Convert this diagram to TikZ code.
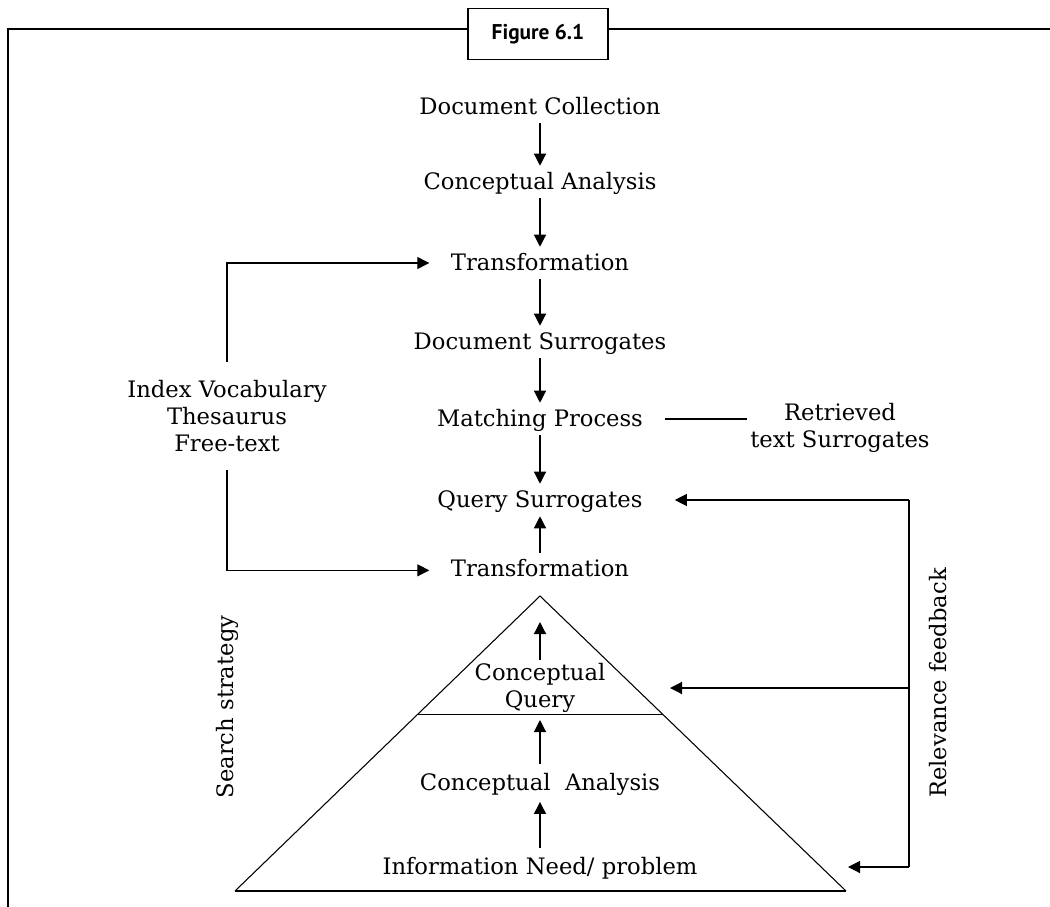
\documentclass[tikz,border=0pt]{standalone}
\usepackage{fontspec}
\setmainfont{DejaVu Serif}
\newfontfamily\figfont{PT Sans}
\usetikzlibrary{arrows.meta,shapes,calc}
\tikzstyle{stage}=[inner xsep=16pt, inner ysep=0pt
,minimum height=24pt
,text height=11pt, text depth=0pt
,align=center
]
\tikzstyle{tall stage} = [stage, minimum height=28pt]
\tikzstyle{block} = [inner xsep=2pt, align=center]
\tikzstyle{figure label} = [draw, fill=white, line width=0.8pt, inner sep=0pt
,minimum width=105pt, minimum height=38pt
,font=\figfont\bfseries\fontsize{16}{19}\selectfont]
\tikzstyle{edge} = [draw, line width=0.9pt, -]
\tikzstyle{flow} = [draw, line width=0.9pt, -{Triangle[length=9pt,width=9pt]}]

\begin{document}
\begin{tikzpicture}[x=0.75pt, y=-0.75pt, font=\fontsize{17}{20.5}\selectfont]
    \useasboundingbox (0,0) rectangle (1050,907);
    % Outer frame and the figure label
    \draw[line width=1.5pt] (8,907) -- (8,29) -- (1050,29);
    \node[figure label] (fig) at (538,34) {Figure 6.1};

    % Main column of stages
    \foreach \pos/\name/\txt in {{(540,107)/dc/Document Collection}, {(540,182)/ca1/Conceptual Analysis},
        {(540,263)/tr1/Transformation}, {(540,342)/ds/Document Surrogates}, {(540,419)/mp/Matching Process},
        {(540,500)/qs/Query Surrogates}, {(540,569)/tr2/Transformation}}
        \node[stage] (\name) at \pos {\txt};

    % Stages inside the search strategy triangle
    \node[block, inner ysep=2pt] (cq) at (540,688) {Conceptual\\Query};
    \node[tall stage] (ca2) at (540,783) {Conceptual~ Analysis};
    \node[tall stage] (inp) at (540,867) {Information Need/ problem};

    % Side texts
    \node[block, inner ysep=13.5pt] (idx) at (227,416) {Index Vocabulary\\Thesaurus\\Free-text};
    \node[block] (ret) at (840,428) {Retrieved\\text Surrogates};
    \node[rotate=90] (srch) at (227,707) {Search strategy};
    \node[rotate=90] (rel) at (938,683) {Relevance feedback};

    % The triangle
    \coordinate (apex) at (540,596);
    \coordinate (bl) at (235,891);
    \coordinate (br) at (846,891);
    \coordinate (ml) at ($(apex)!0.403!(bl)$);
    \coordinate (mr) at ($(apex)!0.403!(br)$);
    \draw[line width=0.8pt] (bl) -- (apex) -- (br);
    \draw[line width=1.4pt] (bl) -- (br);
    \draw[line width=0.8pt] (ml) -- (mr);

    % Free arrow ends
    \coordinate (cqtop) at (540,622);
    \coordinate (cqbot) at (540,720);
    \coordinate (fb1) at (909,500);
    \coordinate (fb2) at (909,688);
    \coordinate (fb3) at (909,867);
    \coordinate (cqr) at (670,688);
    \coordinate (inr) at (848,867);

    % Connect the stages
    \foreach \source/ \dest in {dc/ca1, ca1/tr1, tr1/ds, ds/mp, mp/qs, tr2/qs, inp/ca2}
        \path[flow] (\source) -- (\dest);
    \path[flow] (cq) -- (cqtop);
    \path[flow] (ca2) -- (cqbot);

    % Vocabulary feeds both transformations
    \path[flow] (idx.north) |- (tr1.west);
    \path[flow] (idx.south) |- ([yshift=-1pt]tr2.west);
    \path[edge] (mp.east) -- (mp.east -| ret.west);

    % Relevance feedback loop
    \path[edge] (fb1) -- (fb3);
    \path[flow, shorten >=8pt] (fb1) -- (qs.east);
    \path[flow] (fb2) -- (cqr);
    \path[flow] (fb3) -- (inr);
\end{tikzpicture}
\end{document}
